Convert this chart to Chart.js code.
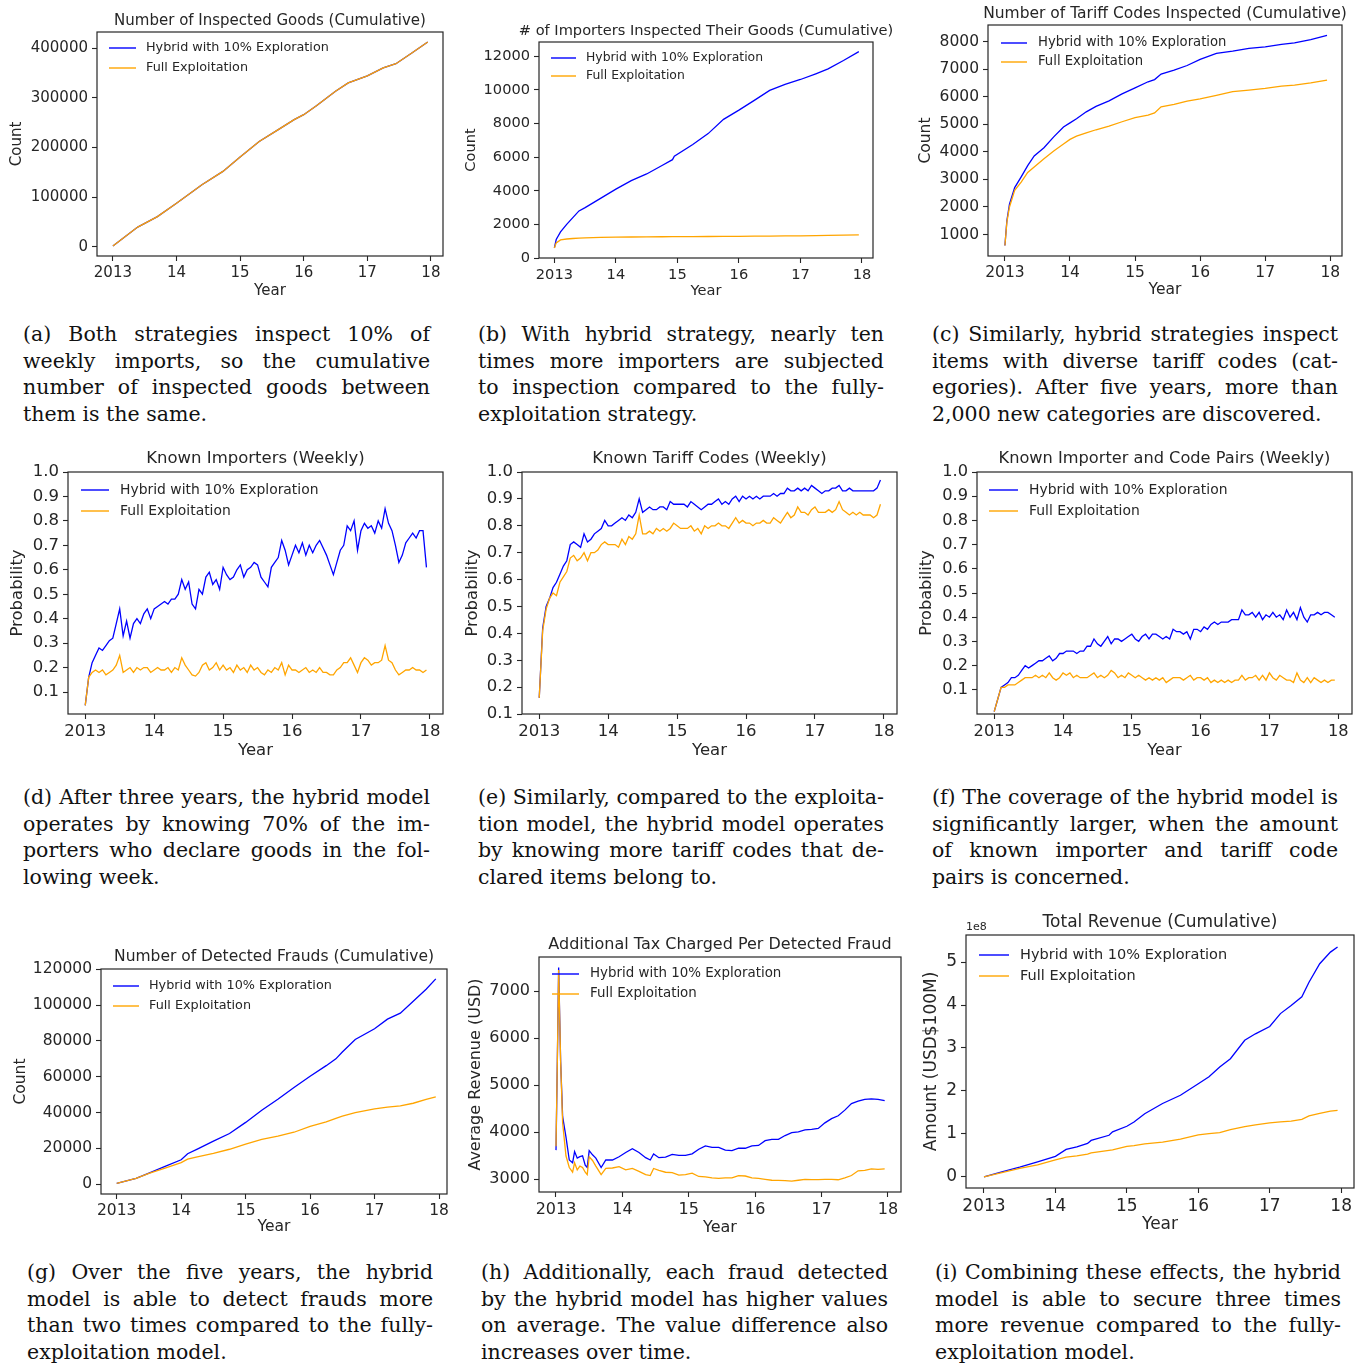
<!DOCTYPE html>
<html>
<head>
<meta charset="utf-8">
<title>Hybrid vs Full Exploitation</title>
<script src="https://cdn.jsdelivr.net/npm/chart.js@4.4.1/dist/chart.umd.min.js"></script>
<style>
  html, body { margin: 0; padding: 0; background: #fff; }
  #stage { position: relative; width: 1364px; height: 1364px; overflow: hidden; background: #fff; }
  #stage canvas { position: absolute; }
  .cap { position: absolute; font-family: "DejaVu Serif", serif; font-size: 20.5px; line-height: 26.7px; color: #111; }
  .cap div { white-space: nowrap; }
</style>
</head>
<body>
<div id="stage"></div>
<script>
// ---- shared axis data ----
const YEAR_TICKS = [2013, 2014, 2015, 2016, 2017, 2018];
const YEAR_LABELS = ['2013', '14', '15', '16', '17', '18'];
const LABEL_HYBRID = 'Hybrid with 10% Exploration';
const LABEL_EXPLOIT = 'Full Exploitation';

// weekly sample positions (years) used by the weekly panels d, e, f
const WEEKS = [
  2013.00, 2013.05, 2013.10, 2013.15, 2013.20, 2013.25, 2013.30, 2013.35, 2013.40, 2013.45, 2013.50, 2013.55, 2013.60, 2013.65, 2013.70, 2013.75, 2013.80, 2013.85, 2013.90, 2013.95,
  2014.00, 2014.05, 2014.10, 2014.15, 2014.20, 2014.25, 2014.30, 2014.35, 2014.40, 2014.45, 2014.50, 2014.55, 2014.60, 2014.65, 2014.70, 2014.75, 2014.80, 2014.85, 2014.90, 2014.95,
  2015.00, 2015.05, 2015.10, 2015.15, 2015.20, 2015.25, 2015.30, 2015.35, 2015.40, 2015.45, 2015.50, 2015.55, 2015.60, 2015.65, 2015.70, 2015.75, 2015.80, 2015.85, 2015.90, 2015.95,
  2016.00, 2016.05, 2016.10, 2016.15, 2016.20, 2016.25, 2016.30, 2016.35, 2016.40, 2016.45, 2016.50, 2016.55, 2016.60, 2016.65, 2016.70, 2016.75, 2016.80, 2016.85, 2016.90, 2016.95,
  2017.00, 2017.05, 2017.10, 2017.15, 2017.20, 2017.25, 2017.30, 2017.35, 2017.40, 2017.45, 2017.50, 2017.55, 2017.60, 2017.65, 2017.70, 2017.75, 2017.80, 2017.85, 2017.90, 2017.95
];

// (a) inspected goods, cumulative
const goodsYears = [2013.0, 2013.39, 2013.7, 2014.0, 2014.4, 2014.73, 2015.0, 2015.3, 2015.6, 2015.85, 2016.0, 2016.2, 2016.5, 2016.7, 2017.0, 2017.25, 2017.45, 2017.7, 2017.95];
const goodsHybrid = [2000, 40000, 61000, 88000, 125000, 152000, 181000, 212000, 236000, 256000, 266000, 284000, 313000, 330000, 344000, 360000, 368500, 390000, 412000];
const goodsExploit = [2000, 40000, 61000, 88000, 125000, 152000, 181000, 212000, 236000, 256000, 266000, 284000, 313000, 330000, 344000, 360000, 368500, 390000, 412000];
const TICKS_GOODS = [0, 100000, 200000, 300000, 400000];

// (b) importers inspected, cumulative
const impYears = [2013.0, 2013.03, 2013.1, 2013.2, 2013.3, 2013.4, 2013.5, 2013.75, 2014.0, 2014.25, 2014.5, 2014.75, 2014.92, 2014.95, 2015.25, 2015.5, 2015.75, 2016.0, 2016.25, 2016.5, 2016.75, 2017.0, 2017.25, 2017.45, 2017.7, 2017.95];
const impHybrid = [600, 1100, 1550, 2000, 2400, 2800, 3000, 3550, 4100, 4600, 5000, 5500, 5850, 6050, 6750, 7400, 8250, 8800, 9380, 9970, 10330, 10620, 10960, 11250, 11750, 12280];
const impExploit = [600, 900, 1080, 1130, 1160, 1185, 1200, 1225, 1240, 1250, 1258, 1264, 1268, 1270, 1275, 1280, 1285, 1290, 1298, 1305, 1312, 1320, 1335, 1345, 1360, 1380];
const TICKS_IMP = [0, 2000, 4000, 6000, 8000, 10000, 12000];

// (c) tariff codes inspected, cumulative
const codeYears = [2013.0, 2013.03, 2013.07, 2013.15, 2013.25, 2013.35, 2013.45, 2013.6, 2013.75, 2013.9, 2014.0, 2014.1, 2014.25, 2014.4, 2014.6, 2014.8, 2015.0, 2015.2, 2015.3, 2015.4, 2015.6, 2015.8, 2016.0, 2016.25, 2016.5, 2016.75, 2017.0, 2017.25, 2017.45, 2017.7, 2017.95];
const codeHybrid = [600, 1500, 2100, 2700, 3090, 3500, 3850, 4150, 4540, 4900, 5050, 5200, 5450, 5650, 5850, 6100, 6320, 6540, 6620, 6820, 6960, 7130, 7350, 7570, 7650, 7750, 7810, 7900, 7950, 8070, 8220];
const codeExploit = [600, 1450, 2000, 2600, 2900, 3250, 3450, 3750, 4030, 4280, 4450, 4570, 4690, 4800, 4930, 5090, 5240, 5330, 5410, 5630, 5720, 5840, 5920, 6050, 6180, 6240, 6300, 6380, 6420, 6500, 6600];
const TICKS_CODE = [1000, 2000, 3000, 4000, 5000, 6000, 7000, 8000];

// (d) known importers, weekly
const knownImpHybrid = [
  0.045, 0.16, 0.22, 0.25, 0.28, 0.27, 0.29, 0.31, 0.32, 0.38, 0.44, 0.33, 0.39, 0.32, 0.38, 0.40, 0.38, 0.42, 0.44, 0.40,
  0.44, 0.45, 0.46, 0.47, 0.46, 0.48, 0.48, 0.50, 0.56, 0.52, 0.55, 0.46, 0.44, 0.52, 0.50, 0.57, 0.59, 0.54, 0.56, 0.52,
  0.61, 0.58, 0.56, 0.57, 0.60, 0.62, 0.57, 0.60, 0.61, 0.63, 0.62, 0.57, 0.55, 0.53, 0.61, 0.63, 0.65, 0.72, 0.68, 0.62,
  0.66, 0.70, 0.67, 0.71, 0.66, 0.70, 0.67, 0.70, 0.72, 0.69, 0.66, 0.62, 0.58, 0.63, 0.68, 0.70, 0.78, 0.76, 0.80, 0.68,
  0.76, 0.79, 0.77, 0.78, 0.75, 0.80, 0.77, 0.85, 0.79, 0.76, 0.70, 0.63, 0.66, 0.71, 0.73, 0.75, 0.73, 0.76, 0.76, 0.61
];
const knownImpExploit = [
  0.045, 0.16, 0.18, 0.19, 0.18, 0.19, 0.17, 0.18, 0.19, 0.21, 0.25, 0.18, 0.19, 0.20, 0.18, 0.20, 0.19, 0.20, 0.20, 0.18,
  0.19, 0.20, 0.19, 0.19, 0.20, 0.18, 0.20, 0.19, 0.24, 0.21, 0.19, 0.17, 0.165, 0.18, 0.21, 0.22, 0.19, 0.20, 0.22, 0.19,
  0.21, 0.19, 0.20, 0.18, 0.21, 0.19, 0.20, 0.18, 0.21, 0.19, 0.20, 0.18, 0.17, 0.19, 0.18, 0.20, 0.19, 0.22, 0.17, 0.21,
  0.19, 0.19, 0.18, 0.19, 0.20, 0.18, 0.19, 0.18, 0.20, 0.18, 0.18, 0.17, 0.17, 0.19, 0.20, 0.22, 0.22, 0.24, 0.21, 0.18,
  0.22, 0.24, 0.23, 0.21, 0.22, 0.22, 0.23, 0.29, 0.23, 0.22, 0.19, 0.17, 0.18, 0.19, 0.19, 0.20, 0.19, 0.19, 0.18, 0.19
];
const TICKS_PROB = [0.1, 0.2, 0.3, 0.4, 0.5, 0.6, 0.7, 0.8, 0.9, 1.0];

// (e) known tariff codes, weekly
const knownCodeHybrid = [
  0.16, 0.42, 0.50, 0.53, 0.57, 0.59, 0.62, 0.65, 0.67, 0.73, 0.74, 0.73, 0.72, 0.77, 0.74, 0.75, 0.77, 0.78, 0.79, 0.82,
  0.80, 0.80, 0.81, 0.82, 0.83, 0.82, 0.84, 0.83, 0.85, 0.90, 0.85, 0.86, 0.87, 0.86, 0.86, 0.87, 0.87, 0.86, 0.89, 0.88,
  0.88, 0.88, 0.88, 0.87, 0.89, 0.88, 0.87, 0.86, 0.87, 0.88, 0.88, 0.89, 0.90, 0.88, 0.89, 0.88, 0.90, 0.91, 0.89, 0.91,
  0.90, 0.91, 0.90, 0.91, 0.90, 0.91, 0.91, 0.91, 0.92, 0.91, 0.92, 0.92, 0.94, 0.93, 0.93, 0.94, 0.93, 0.94, 0.93, 0.95,
  0.94, 0.93, 0.92, 0.93, 0.93, 0.94, 0.94, 0.95, 0.93, 0.93, 0.94, 0.93, 0.93, 0.93, 0.93, 0.93, 0.93, 0.93, 0.94, 0.97
];
const knownCodeExploit = [
  0.16, 0.41, 0.49, 0.53, 0.55, 0.54, 0.59, 0.61, 0.63, 0.68, 0.69, 0.67, 0.68, 0.70, 0.67, 0.70, 0.70, 0.71, 0.73, 0.74,
  0.73, 0.73, 0.73, 0.72, 0.75, 0.73, 0.76, 0.75, 0.77, 0.84, 0.77, 0.77, 0.78, 0.77, 0.79, 0.78, 0.79, 0.78, 0.79, 0.81,
  0.80, 0.79, 0.79, 0.79, 0.80, 0.78, 0.79, 0.77, 0.80, 0.79, 0.80, 0.80, 0.81, 0.80, 0.80, 0.79, 0.81, 0.83, 0.81, 0.82,
  0.81, 0.81, 0.80, 0.81, 0.81, 0.82, 0.81, 0.81, 0.83, 0.82, 0.81, 0.83, 0.85, 0.83, 0.84, 0.87, 0.85, 0.85, 0.84, 0.86,
  0.87, 0.85, 0.85, 0.85, 0.86, 0.85, 0.86, 0.89, 0.86, 0.85, 0.84, 0.85, 0.84, 0.85, 0.84, 0.84, 0.84, 0.83, 0.84, 0.88
];

// (f) known importer/code pairs, weekly
const knownPairHybrid = [
  0.01, 0.06, 0.11, 0.12, 0.13, 0.15, 0.15, 0.16, 0.18, 0.20, 0.19, 0.20, 0.21, 0.22, 0.22, 0.23, 0.24, 0.22, 0.23, 0.25,
  0.25, 0.26, 0.26, 0.26, 0.25, 0.26, 0.26, 0.28, 0.28, 0.31, 0.29, 0.28, 0.30, 0.32, 0.29, 0.31, 0.31, 0.30, 0.31, 0.32,
  0.33, 0.31, 0.30, 0.32, 0.33, 0.31, 0.33, 0.33, 0.32, 0.31, 0.32, 0.31, 0.35, 0.34, 0.34, 0.33, 0.34, 0.31, 0.35, 0.35,
  0.34, 0.36, 0.35, 0.37, 0.38, 0.37, 0.38, 0.38, 0.38, 0.39, 0.39, 0.39, 0.43, 0.41, 0.41, 0.42, 0.40, 0.42, 0.39, 0.41,
  0.40, 0.42, 0.40, 0.41, 0.39, 0.43, 0.40, 0.42, 0.39, 0.44, 0.40, 0.38, 0.41, 0.41, 0.42, 0.41, 0.42, 0.42, 0.41, 0.40
];
const knownPairExploit = [
  0.01, 0.06, 0.11, 0.11, 0.12, 0.12, 0.12, 0.13, 0.14, 0.15, 0.15, 0.15, 0.16, 0.15, 0.16, 0.15, 0.17, 0.15, 0.14, 0.15,
  0.17, 0.16, 0.17, 0.15, 0.16, 0.15, 0.15, 0.15, 0.16, 0.17, 0.15, 0.16, 0.15, 0.16, 0.18, 0.17, 0.15, 0.16, 0.15, 0.17,
  0.16, 0.15, 0.16, 0.15, 0.14, 0.15, 0.14, 0.15, 0.14, 0.15, 0.13, 0.14, 0.15, 0.15, 0.15, 0.14, 0.15, 0.16, 0.14, 0.15,
  0.15, 0.14, 0.15, 0.13, 0.14, 0.13, 0.14, 0.13, 0.14, 0.13, 0.14, 0.14, 0.16, 0.14, 0.15, 0.15, 0.16, 0.14, 0.16, 0.14,
  0.17, 0.15, 0.14, 0.16, 0.15, 0.14, 0.14, 0.13, 0.17, 0.14, 0.13, 0.15, 0.13, 0.15, 0.14, 0.13, 0.14, 0.13, 0.14, 0.14
];

// (g) detected frauds, cumulative
const fraudYears = [2013.0, 2013.3, 2013.5, 2013.75, 2014.0, 2014.1, 2014.25, 2014.5, 2014.75, 2015.0, 2015.25, 2015.5, 2015.75, 2016.0, 2016.25, 2016.4, 2016.5, 2016.7, 2017.0, 2017.2, 2017.4, 2017.6, 2017.8, 2017.95];
const fraudHybrid = [400, 3200, 6200, 9900, 13600, 17000, 19600, 24000, 28300, 34500, 41300, 47400, 54000, 60300, 66200, 70000, 73800, 80800, 86800, 92200, 95500, 102200, 108900, 114700];
const fraudExploit = [400, 3200, 6000, 9000, 12000, 14000, 15300, 17200, 19500, 22400, 25000, 26800, 29000, 32300, 34800, 36800, 38000, 40000, 42000, 43000, 43700, 45200, 47300, 48700];
const TICKS_FRAUD = [0, 20000, 40000, 60000, 80000, 100000, 120000];

// (h) additional tax per detected fraud (USD)
const taxYears = [
  2013.00, 2013.02, 2013.04, 2013.07, 2013.10, 2013.15, 2013.20, 2013.25, 2013.28, 2013.32, 2013.36, 2013.40, 2013.44, 2013.47, 2013.50, 2013.55, 2013.60, 2013.68, 2013.75, 2013.85, 2013.95,
  2014.05, 2014.15, 2014.25, 2014.35, 2014.42, 2014.47, 2014.55, 2014.65, 2014.75, 2014.85, 2014.95,
  2015.05, 2015.15, 2015.25, 2015.35, 2015.45, 2015.55, 2015.65, 2015.75, 2015.85, 2015.95,
  2016.05, 2016.15, 2016.25, 2016.35, 2016.45, 2016.55, 2016.65, 2016.75, 2016.85, 2016.95,
  2017.05, 2017.15, 2017.25, 2017.35, 2017.45, 2017.55, 2017.65, 2017.75, 2017.85, 2017.95
];
const taxHybrid = [
  3620, 5500, 7500, 5500, 4330, 3900, 3410, 3350, 3590, 3450, 3480, 3500, 3300, 3250, 3610, 3520, 3450, 3250, 3410, 3410, 3480,
  3570, 3650, 3570, 3460, 3410, 3540, 3460, 3470, 3530, 3510, 3510,
  3540, 3640, 3710, 3680, 3680, 3620, 3610, 3660, 3660, 3710,
  3720, 3820, 3850, 3850, 3930, 3990, 4010, 4050, 4060, 4080,
  4200, 4290, 4350, 4470, 4610, 4660, 4700, 4710, 4700, 4670
];
const taxExploit = [
  3700, 5500, 7450, 5500, 4200, 3500, 3250, 3150, 3350, 3200, 3280, 3250, 3150, 3100, 3480, 3400, 3280, 3100, 3230, 3240, 3270,
  3200, 3230, 3170, 3100, 3080, 3230, 3190, 3150, 3140, 3090, 3100,
  3130, 3060, 3050, 3030, 3020, 3030, 3030, 3080, 3070, 3030,
  3020, 3000, 2980, 2975, 2970, 2960, 2980, 3000, 2995, 2995,
  3000, 3000, 2990, 3030, 3080, 3180, 3190, 3220, 3210, 3220
];
const TICKS_TAX = [3000, 4000, 5000, 6000, 7000];

// (i) total revenue, cumulative (units of 1e8 USD)
const revYears = [2013.0, 2013.25, 2013.5, 2013.75, 2014.0, 2014.15, 2014.3, 2014.45, 2014.5, 2014.75, 2014.8, 2015.0, 2015.1, 2015.25, 2015.5, 2015.75, 2016.0, 2016.15, 2016.3, 2016.45, 2016.65, 2016.8, 2017.0, 2017.15, 2017.3, 2017.45, 2017.55, 2017.7, 2017.85, 2017.95];
const revHybrid = [0.0, 0.12, 0.23, 0.35, 0.48, 0.64, 0.70, 0.78, 0.85, 0.97, 1.05, 1.18, 1.28, 1.47, 1.71, 1.90, 2.17, 2.33, 2.56, 2.75, 3.18, 3.33, 3.50, 3.80, 3.99, 4.19, 4.53, 4.96, 5.23, 5.35];
const revExploit = [0.0, 0.10, 0.20, 0.28, 0.40, 0.46, 0.49, 0.53, 0.56, 0.62, 0.63, 0.71, 0.73, 0.77, 0.81, 0.88, 0.98, 1.01, 1.03, 1.10, 1.17, 1.21, 1.26, 1.28, 1.30, 1.34, 1.42, 1.48, 1.53, 1.55];
const TICKS_REV = [0, 1, 2, 3, 4, 5];

// ---- look ----
const BLUE = '#0000ff';
const ORANGE = '#ffa500';
const INK = '#262626';
const FONT = '"DejaVu Sans", sans-serif';
const CAP_FONT = '20.5px "DejaVu Serif"';
const PAGE = 1364;

const stage = document.getElementById('stage');
const prob = v => v.toFixed(1);

// plot: [left, top, right, bottom] of the axes box in page px
// legend: [line x offset, first row y offset, line length, text offset, row gap]
const PANELS = [
  { plot: [97, 32, 443, 256], fs: 15, lfs: 12.8, titleY: 21, yTitleX: 17, xTitleY: 291,
    title: 'Number of Inspected Goods (Cumulative)', yTitle: 'Count',
    xRange: [2012.75, 2018.19], yRange: [-18100, 432200], yTicks: TICKS_GOODS,
    legend: [12, 16, 27, 37, 20],
    x: goodsYears, hybrid: goodsHybrid, exploit: goodsExploit },
  { plot: [539, 42, 873, 258], fs: 14.6, lfs: 12.4, titleY: 31, yTitleX: 471, xTitleY: 291,
    title: '# of Importers Inspected Their Goods (Cumulative)', yTitle: 'Count',
    xRange: [2012.75, 2018.18], yRange: [0, 12850], yTicks: TICKS_IMP,
    legend: [12, 16, 25, 35, 18],
    x: impYears, hybrid: impHybrid, exploit: impExploit },
  { plot: [988, 25, 1342, 256], fs: 15.5, lfs: 13.2, titleY: 14, yTitleX: 926, xTitleY: 290,
    title: 'Number of Tariff Codes Inspected (Cumulative)', yTitle: 'Count',
    xRange: [2012.74, 2018.18], yRange: [220, 8600], yTicks: TICKS_CODE,
    legend: [13, 18, 26, 37, 19],
    x: codeYears, hybrid: codeHybrid, exploit: codeExploit },
  { plot: [68, 472, 443, 714], fs: 16.5, lfs: 13.9, titleY: 459, yTitleX: 18, xTitleY: 751,
    title: 'Known Importers (Weekly)', yTitle: 'Probability',
    xRange: [2012.75, 2018.19], yRange: [0.01, 1.0], yTicks: TICKS_PROB, yFmt: prob,
    legend: [13, 18, 28, 39, 21],
    x: WEEKS, hybrid: knownImpHybrid, exploit: knownImpExploit },
  { plot: [522, 472, 897, 714], fs: 16.5, lfs: 13.9, titleY: 459, yTitleX: 473, xTitleY: 751,
    title: 'Known Tariff Codes (Weekly)', yTitle: 'Probability',
    xRange: [2012.75, 2018.19], yRange: [0.1, 1.0], yTicks: TICKS_PROB, yFmt: prob,
    legend: null,
    x: WEEKS, hybrid: knownCodeHybrid, exploit: knownCodeExploit },
  { plot: [977, 472, 1352, 714], fs: 16.2, lfs: 13.9, titleY: 459, yTitleX: 927, xTitleY: 751,
    title: 'Known Importer and Code Pairs (Weekly)', yTitle: 'Probability',
    xRange: [2012.75, 2018.2], yRange: [0.0, 1.0], yTicks: TICKS_PROB, yFmt: prob,
    legend: [12, 18, 29, 40, 21],
    x: WEEKS, hybrid: knownPairHybrid, exploit: knownPairExploit },
  { plot: [101, 969, 447, 1194], fs: 15.5, lfs: 12.8, titleY: 957, yTitleX: 21, xTitleY: 1227,
    title: 'Number of Detected Frauds (Cumulative)', yTitle: 'Count',
    xRange: [2012.756, 2018.124], yRange: [-5500, 120200], yTicks: TICKS_FRAUD,
    legend: [12, 17, 26, 36, 20],
    x: fraudYears, hybrid: fraudHybrid, exploit: fraudExploit },
  { plot: [539, 957, 901, 1192], fs: 16, lfs: 13.4, titleY: 945, yTitleX: 476, xTitleY: 1227,
    title: 'Additional Tax Charged Per Detected Fraud', yTitle: 'Average Revenue (USD)',
    xRange: [2012.744, 2018.196], yRange: [2730, 7725], yTicks: TICKS_TAX,
    legend: [13, 17, 27, 38, 20],
    x: taxYears, hybrid: taxHybrid, exploit: taxExploit },
  { plot: [966, 935, 1354, 1188], fs: 17, lfs: 14.5, titleY: 923, yTitleX: 931, xTitleY: 1225,
    title: 'Total Revenue (Cumulative)', yTitle: 'Amount (USD$100M)', offsetText: '1e8',
    xRange: [2012.748, 2018.18], yRange: [-0.256, 5.628], yTicks: TICKS_REV,
    legend: [13, 20, 30, 41, 21],
    x: revYears, hybrid: revHybrid, exploit: revExploit }
];

const CAPTIONS = [
  [23, 321, 407, ['(a) Both strategies inspect 10% of', 'weekly imports, so the cumulative', 'number of inspected goods between', 'them is the same.']],
  [478, 321, 406, ['(b) With hybrid strategy, nearly ten', 'times more importers are subjected', 'to inspection compared to the fully-', 'exploitation strategy.']],
  [932, 321, 406, ['(c) Similarly, hybrid strategies inspect', 'items with diverse tariff codes (cat-', 'egories). After five years, more than', '2,000 new categories are discovered.']],
  [23, 784, 407, ['(d) After three years, the hybrid model', 'operates by knowing 70% of the im-', 'porters who declare goods in the fol-', 'lowing week.']],
  [478, 784, 406, ['(e) Similarly, compared to the exploita-', 'tion model, the hybrid model operates', 'by knowing more tariff codes that de-', 'clared items belong to.']],
  [932, 784, 406, ['(f) The coverage of the hybrid model is', 'significantly larger, when the amount', 'of known importer and tariff code', 'pairs is concerned.']],
  [27, 1259, 406, ['(g) Over the five years, the hybrid', 'model is able to detect frauds more', 'than two times compared to the fully-', 'exploitation model.']],
  [481, 1259, 407, ['(h) Additionally, each fraud detected', 'by the hybrid model has higher values', 'on average. The value difference also', 'increases over time.']],
  [935, 1259, 406, ['(i) Combining these effects, the hybrid', 'model is able to secure three times', 'more revenue compared to the fully-', 'exploitation model.']]
];

function series(label, xs, ys, color, order) {
  return {
    label,
    data: xs.map((x, i) => ({ x, y: ys[i] })),
    borderColor: color,
    backgroundColor: color,
    borderWidth: 1.3,
    pointRadius: 0,
    tension: 0,
    fill: false,
    order
  };
}

function drawPanel(p) {
  const lh = p.fs * 1.2;
  const [pl, pt, pr, pb] = p.plot;
  const left = Math.round(p.yTitleX - lh / 2);
  const top = Math.max(0, Math.round(p.titleY - p.fs));
  const right = Math.min(PAGE, pr + 28);
  const bottom = Math.round(p.xTitleY + lh / 2);
  const W = right - left, H = bottom - top;

  const cv = document.createElement('canvas');
  cv.width = W; cv.height = H;
  cv.style.left = left + 'px'; cv.style.top = top + 'px';
  cv.style.width = W + 'px'; cv.style.height = H + 'px';
  stage.appendChild(cv);

  const font = { family: FONT, size: p.fs };
  const grid = { display: true, drawOnChartArea: false, drawTicks: true, tickLength: 5, tickWidth: 1.1, tickColor: INK, color: INK };

  // frame, title, legend and the 1e8 offset label
  const deco = {
    id: 'deco',
    afterDatasetsDraw(chart) {
      const { ctx, chartArea: ca } = chart;
      ctx.save();
      ctx.strokeStyle = INK;
      ctx.lineWidth = 1.2;
      ctx.strokeRect(ca.left, ca.top, ca.right - ca.left, ca.bottom - ca.top);
      ctx.fillStyle = INK;
      ctx.font = `${p.fs}px ${FONT}`;
      ctx.textAlign = 'center';
      ctx.textBaseline = 'middle';
      ctx.fillText(p.title, (ca.left + ca.right) / 2, p.titleY - top);
      if (p.legend) {
        const [lx, ly, len, tx, dy] = p.legend;
        ctx.font = `${p.lfs}px ${FONT}`;
        ctx.textAlign = 'left';
        chart.data.datasets.forEach((ds, i) => {
          const y = ca.top + ly + i * dy;
          ctx.strokeStyle = ds.borderColor;
          ctx.lineWidth = 1.4;
          ctx.beginPath();
          ctx.moveTo(ca.left + lx, y);
          ctx.lineTo(ca.left + lx + len, y);
          ctx.stroke();
          ctx.fillStyle = INK;
          ctx.fillText(ds.label, ca.left + lx + tx, y);
        });
      }
      if (p.offsetText) {
        ctx.font = `11px ${FONT}`;
        ctx.textAlign = 'left';
        ctx.textBaseline = 'bottom';
        ctx.fillStyle = INK;
        ctx.fillText(p.offsetText, ca.left, ca.top - 2);
      }
      ctx.restore();
    }
  };

  new Chart(cv, {
    type: 'line',
    data: {
      datasets: [
        series(LABEL_HYBRID, p.x, p.hybrid, BLUE, 1),
        series(LABEL_EXPLOIT, p.x, p.exploit, ORANGE, 0)
      ]
    },
    options: {
      responsive: false,
      animation: false,
      devicePixelRatio: 1,
      layout: { padding: { top: pt - top, right: right - pr, left: 0, bottom: 0 } },
      plugins: { legend: { display: false }, tooltip: { enabled: false }, title: { display: false } },
      scales: {
        x: {
          type: 'linear',
          min: p.xRange[0], max: p.xRange[1],
          afterBuildTicks: s => { s.ticks = YEAR_TICKS.map(v => ({ value: v })); },
          afterFit: s => { s.height = bottom - pb; },
          ticks: { font, color: INK, padding: 3, autoSkip: false, maxRotation: 0, minRotation: 0,
                   callback: (v, i) => YEAR_LABELS[i] },
          grid, border: { display: false },
          title: { display: true, text: 'Year', font, color: INK, padding: 0 }
        },
        y: {
          type: 'linear',
          min: p.yRange[0], max: p.yRange[1],
          afterBuildTicks: s => { s.ticks = p.yTicks.map(v => ({ value: v })); },
          afterFit: s => { s.width = pl - left; },
          ticks: { font, color: INK, padding: 4, autoSkip: false,
                   callback: v => (p.yFmt ? p.yFmt(v) : String(v)) },
          grid, border: { display: false },
          title: { display: true, text: p.yTitle, font, color: INK, padding: 0 }
        }
      }
    },
    plugins: [deco]
  });
}

function drawCaption([x, y, w, lines]) {
  const box = document.createElement('div');
  box.className = 'cap';
  box.style.left = x + 'px';
  box.style.top = y + 'px';
  box.style.width = w + 'px';
  stage.appendChild(box);
  const m = document.createElement('canvas').getContext('2d');
  m.font = CAP_FONT;
  lines.forEach((txt, i) => {
    const d = document.createElement('div');
    d.textContent = txt;
    if (i < lines.length - 1) {
      const gaps = txt.split(' ').length - 1;
      const extra = w - m.measureText(txt).width;
      if (gaps > 0) d.style.wordSpacing = (extra / gaps).toFixed(2) + 'px';
    }
    box.appendChild(d);
  });
}

PANELS.forEach(drawPanel);
CAPTIONS.forEach(drawCaption);
</script>
</body>
</html>
